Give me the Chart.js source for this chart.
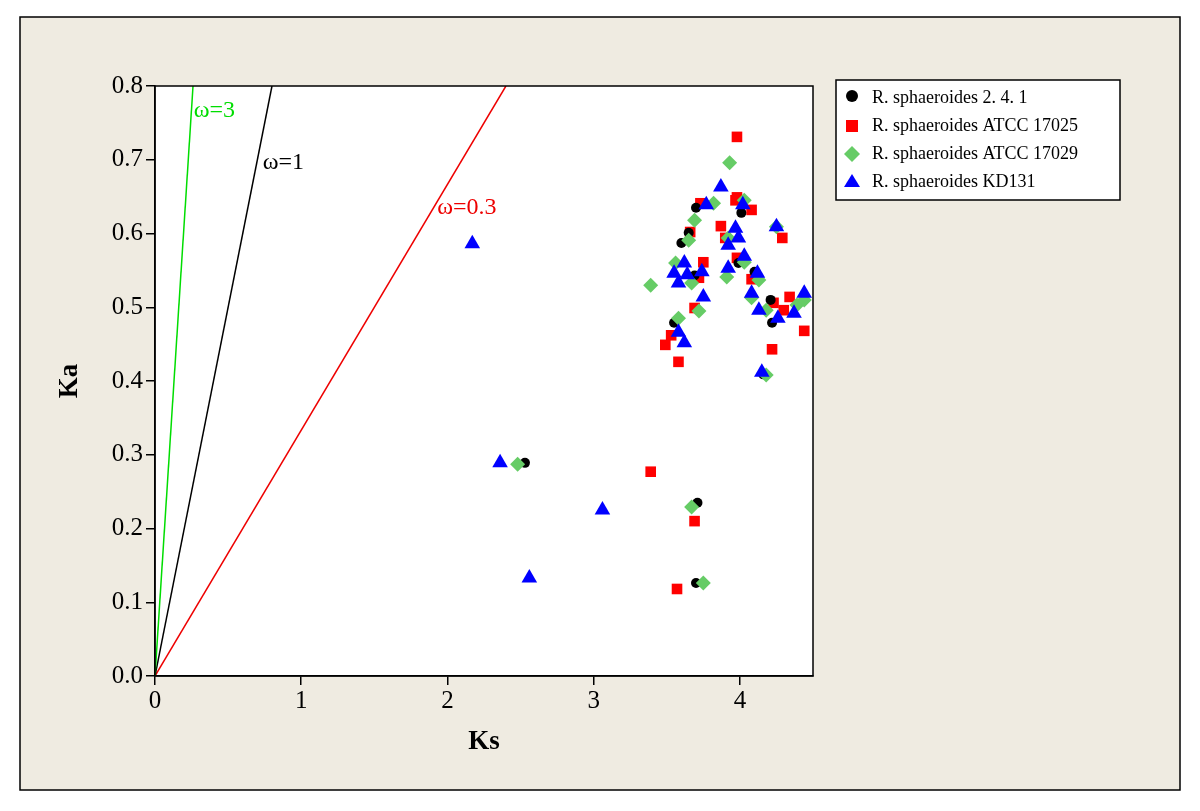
<!DOCTYPE html>
<html>
<head>
<meta charset="utf-8">
<script src="https://cdn.jsdelivr.net/npm/chart.js@4.4.1/dist/chart.umd.min.js"></script>
<style>
  html, body { margin: 0; padding: 0; background: #fff; }
  #wrap { width: 1200px; height: 811px; position: relative; }
</style>
</head>
<body>
<div id="wrap"><canvas id="kaks" width="1200" height="811"></canvas></div>
<script>
// Ks / Ka values
const ks241 = [3.70, 3.65, 3.60, 3.69, 3.55, 4.01, 3.99, 4.10, 4.21, 4.22, 4.16, 2.53, 3.71, 3.70];
const ka241 = [0.635, 0.601, 0.587, 0.543, 0.479, 0.628, 0.560, 0.548, 0.510, 0.479, 0.409, 0.289, 0.235, 0.126];

const ks17025 = [3.98, 3.98, 3.97, 3.73, 4.08, 3.87, 3.66, 4.29, 3.90, 3.98, 3.75, 3.72, 4.08, 3.69, 3.53, 3.49, 3.58, 4.34, 4.23, 4.30, 4.44, 4.22, 3.39, 3.69, 3.57];
const ka17025 = [0.731, 0.649, 0.645, 0.641, 0.632, 0.610, 0.602, 0.594, 0.594, 0.567, 0.561, 0.540, 0.538, 0.499, 0.462, 0.449, 0.426, 0.514, 0.506, 0.496, 0.468, 0.443, 0.277, 0.210, 0.118];

const ks17029 = [3.93, 3.82, 3.69, 3.65, 4.03, 3.92, 4.25, 3.56, 3.39, 3.67, 3.91, 4.13, 4.03, 4.08, 3.72, 3.58, 4.18, 4.39, 4.44, 4.18, 2.48, 3.67, 3.75];
const ka17029 = [0.696, 0.641, 0.618, 0.591, 0.645, 0.594, 0.609, 0.560, 0.530, 0.533, 0.541, 0.537, 0.561, 0.513, 0.495, 0.485, 0.496, 0.503, 0.510, 0.408, 0.287, 0.229, 0.126];

const ksKD131 = [2.17, 2.36, 3.06, 2.56, 3.87, 3.77, 4.02, 3.97, 4.25, 3.99, 3.92, 4.03, 3.62, 3.74, 3.55, 3.64, 3.92, 3.58, 4.12, 3.75, 4.08, 4.44, 4.13, 4.37, 4.26, 3.58, 3.62, 4.15];
const kaKD131 = [0.586, 0.289, 0.225, 0.133, 0.663, 0.639, 0.639, 0.607, 0.609, 0.594, 0.584, 0.569, 0.560, 0.548, 0.546, 0.544, 0.553, 0.533, 0.546, 0.514, 0.519, 0.519, 0.496, 0.492, 0.485, 0.466, 0.452, 0.412];

// reference lines Ka = w * Ks, drawn up to Ka = 0.8
const omegaLabels = ['ω=3', 'ω=1', 'ω=0.3'];
const omegaEndKs = [0.26, 0.80, 2.40];
const omegaColors = ['#00dd00', '#000000', '#ee0000'];
const omegaTextPos = [[0.265, 0.767], [0.737, 0.696], [1.93, 0.635]];

const yTicks = [0, 0.1, 0.2, 0.3, 0.4, 0.5, 0.6, 0.7, 0.8];
const xTicks = [0, 1, 2, 3, 4];

const SERIF = '"Liberation Serif", "Times New Roman", serif';

function pts(xs, ys) { return xs.map((x, i) => ({ x: x, y: ys[i] })); }

const series = [
  { label: 'R. sphaeroides 2. 4. 1', data: pts(ks241, ka241), color: '#000000', style: 'circle', r: 5, order: 3 },
  { label: 'R. sphaeroides ATCC 17025', data: pts(ks17025, ka17025), color: '#ff0000', style: 'rect', r: 7.5, order: 4 },
  { label: 'R. sphaeroides ATCC 17029', data: pts(ks17029, ka17029), color: '#66cc66', style: 'rectRot', r: 7.5, order: 2 },
  { label: 'R. sphaeroides KD131', data: pts(ksKD131, kaKD131), color: '#0000ff', style: 'triangle', r: 9, order: 1 }
];

const datasets = series.map(s => ({
  label: s.label, data: s.data, showLine: false,
  pointStyle: s.style, pointRadius: s.r, pointHoverRadius: s.r,
  backgroundColor: s.color, borderColor: s.color, borderWidth: 0, order: s.order
}));

omegaLabels.forEach((lab, i) => {
  datasets.push({
    label: lab, data: [{ x: 0, y: 0 }, { x: omegaEndKs[i], y: 0.8 }],
    showLine: true, pointRadius: 0, borderColor: omegaColors[i], borderWidth: 1.5,
    order: 5
  });
});

const framePlugin = {
  id: 'frame',
  beforeDraw(chart) {
    const ctx = chart.ctx, a = chart.chartArea;
    ctx.save();
    ctx.fillStyle = '#ffffff';
    ctx.fillRect(0, 0, chart.width, chart.height);
    ctx.fillStyle = '#efebe1';
    ctx.fillRect(20, 17, 1160, 773);
    ctx.strokeStyle = '#000';
    ctx.lineWidth = 1.5;
    ctx.strokeRect(20, 17, 1160, 773);
    ctx.fillStyle = '#ffffff';
    ctx.fillRect(a.left, a.top, a.right - a.left, a.bottom - a.top);
    ctx.restore();
  },
  afterDatasetsDraw(chart) {
    const ctx = chart.ctx, a = chart.chartArea;
    const xs = chart.scales.x, ys = chart.scales.y;
    ctx.save();
    ctx.strokeStyle = '#000';
    ctx.lineWidth = 1.5;
    ctx.strokeRect(a.left, a.top, a.right - a.left, a.bottom - a.top);
    // omega labels
    ctx.font = '24px ' + SERIF;
    ctx.textBaseline = 'middle';
    ctx.textAlign = 'left';
    omegaLabels.forEach((lab, i) => {
      ctx.fillStyle = omegaColors[i];
      ctx.fillText(lab, xs.getPixelForValue(omegaTextPos[i][0]), ys.getPixelForValue(omegaTextPos[i][1]));
    });
    ctx.restore();
  },
  afterDraw(chart) {
    const ctx = chart.ctx;
    const bx = 836, by = 80, bw = 284, bh = 120;
    ctx.save();
    ctx.fillStyle = '#fff';
    ctx.fillRect(bx, by, bw, bh);
    ctx.strokeStyle = '#000';
    ctx.lineWidth = 1.5;
    ctx.strokeRect(bx, by, bw, bh);
    ctx.font = '18px ' + SERIF;
    ctx.textBaseline = 'middle';
    ctx.textAlign = 'left';
    series.forEach((s, i) => {
      const y = 98 + i * 28, x = 852;
      ctx.fillStyle = s.color;
      ctx.beginPath();
      if (s.style === 'circle') {
        ctx.arc(x, y - 2, 6, 0, Math.PI * 2);
      } else if (s.style === 'rect') {
        ctx.rect(x - 6, y - 6, 12, 12);
      } else if (s.style === 'rectRot') {
        ctx.moveTo(x - 8, y); ctx.lineTo(x, y - 8); ctx.lineTo(x + 8, y); ctx.lineTo(x, y + 8);
      } else {
        ctx.moveTo(x - 8, y + 5); ctx.lineTo(x, y - 8); ctx.lineTo(x + 8, y + 5);
      }
      ctx.closePath();
      ctx.fill();
      ctx.fillStyle = '#000';
      ctx.fillText(s.label, 872, y);
    });
    ctx.restore();
  }
};

const tickFont = { family: SERIF, size: 25 };
const titleFont = { family: SERIF, size: 27, weight: 'bold' };

new Chart(document.getElementById('kaks'), {
  type: 'scatter',
  data: { datasets: datasets },
  options: {
    responsive: false,
    animation: false,
    devicePixelRatio: 1,
    layout: { padding: { left: 40, top: 86, right: 387, bottom: 40 } },
    plugins: { legend: { display: false }, tooltip: { enabled: false } },
    scales: {
      x: {
        type: 'linear', min: 0, max: 4.5,
        afterBuildTicks(scale) { scale.ticks = xTicks.map(v => ({ value: v })); },
        afterFit(scale) { scale.height = 95; },
        ticks: { font: tickFont, color: '#000', padding: 1, callback: v => String(v) },
        grid: { drawOnChartArea: false, color: '#000', lineWidth: 1.5, tickLength: 9 },
        border: { color: '#000', width: 1.5 },
        title: { display: true, text: 'Ks', font: titleFont, color: '#000', padding: { top: 0, bottom: 13 } }
      },
      y: {
        type: 'linear', min: 0, max: 0.8,
        afterBuildTicks(scale) { scale.ticks = yTicks.map(v => ({ value: v })); },
        afterFit(scale) { scale.width = 115; },
        ticks: { font: tickFont, color: '#000', padding: 3, callback: v => Number(v).toFixed(1) },
        grid: { drawOnChartArea: false, color: '#000', lineWidth: 1.5, tickLength: 9 },
        border: { color: '#000', width: 1.5 },
        title: { display: true, text: 'Ka', font: titleFont, color: '#000', padding: { top: 14, bottom: 0 } }
      }
    }
  },
  plugins: [framePlugin]
});
</script>
</body>
</html>
